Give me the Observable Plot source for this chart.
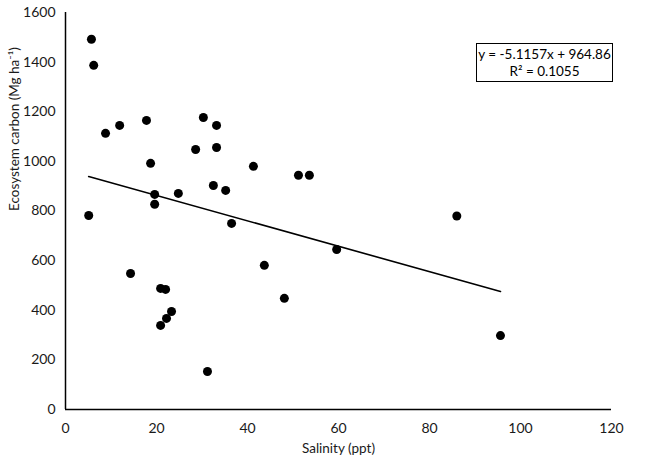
<!DOCTYPE html>
<html>
<head>
<meta charset="utf-8">
<script src="https://cdn.jsdelivr.net/npm/d3@7"></script>
<script src="https://cdn.jsdelivr.net/npm/@observablehq/plot@0.6"></script>
<style>
  html, body { margin: 0; padding: 0; background: #fff; }
  #wrap { position: relative; width: 649px; height: 467px; font-family: Lato, "Open Sans", sans-serif; }
  #eq { position: absolute; left: 476px; top: 43px; width: 137px; height: 39px; border: 1px solid #000;
        font-size: 13.5px; line-height: 17px; text-align: center; color: #000; background: #fff; box-sizing: border-box; padding-top: 2px; }
</style>
</head>
<body>
<div id="wrap"></div>
<script>
const salinity = [5.7, 6.2, 8.8, 11.9, 17.8, 18.7, 19.6, 19.6, 24.8, 28.6, 30.3, 33.2, 33.2, 32.5, 35.2, 5.1,
  36.5, 59.6, 43.7, 48.1, 20.9, 22.0, 23.3, 22.2, 20.9, 31.2, 14.3, 41.3, 51.2, 53.6, 86.0, 95.6];
const carbon = [1492, 1387, 1113, 1145, 1165, 992, 867, 827, 871, 1048, 1177, 1145, 1056, 903, 883, 782,
  750, 645, 581, 448, 488, 484, 395, 367, 339, 153, 548, 980, 944, 944, 780, 298];
const slope = -5.1157;
const intercept = 964.86;
const rSquared = "0.1055";
const xTicks = [0, 20, 40, 60, 80, 100, 120];
const yTicks = [0, 200, 400, 600, 800, 1000, 1200, 1400, 1600];

const pts = salinity.map((s, i) => ({s, c: carbon[i]}));
const [xMin, xMax] = d3.extent(salinity);
const trend = [xMin, xMax].map(s => ({s, c: slope * s + intercept}));

const chart = Plot.plot({
  width: 649,
  height: 467,
  marginLeft: 65,
  marginRight: 38,
  marginTop: 12,
  marginBottom: 58,
  style: {fontFamily: "Lato, 'Open Sans', sans-serif", fontSize: "13px", color: "#000", background: "#fff"},
  x: {domain: [0, 120], ticks: xTicks, label: null},
  y: {domain: [0, 1600], ticks: yTicks, label: null},
  marks: [
    Plot.axisX({ticks: xTicks, tickFormat: d => String(d), tickSize: 0, tickPadding: 14, fontSize: 14, fill: "#1a1a1a", label: null}),
    Plot.axisY({ticks: yTicks, tickFormat: d => String(d), tickSize: 0, tickPadding: 10, fontSize: 14, fill: "#1a1a1a", label: null}),
    Plot.ruleY([0], {stroke: "#000", strokeWidth: 1.5}),
    Plot.ruleX([0], {stroke: "#000", strokeWidth: 1.5}),
    Plot.line(trend, {x: "s", y: "c", stroke: "#000", strokeWidth: 1.6}),
    Plot.dot(pts, {x: "s", y: "c", r: 4.5, fill: "#000", stroke: "none"}),
    Plot.text(["Salinity (ppt)"], {frameAnchor: "bottom", dy: 43, fontSize: 13.5, fill: "#1a1a1a"}),
    Plot.text(["Ecosystem carbon (Mg ha\u207B\u00B9)"], {frameAnchor: "left", dx: -51, rotate: -90, fontSize: 13.5, fill: "#1a1a1a"})
  ]
});
const wrap = document.getElementById("wrap");
wrap.appendChild(chart);
const eq = document.createElement("div");
eq.id = "eq";
eq.innerHTML = `y = ${slope}x + ${intercept}<br>R\u00B2 = ${rSquared}`;
wrap.appendChild(eq);
</script>
</body>
</html>
